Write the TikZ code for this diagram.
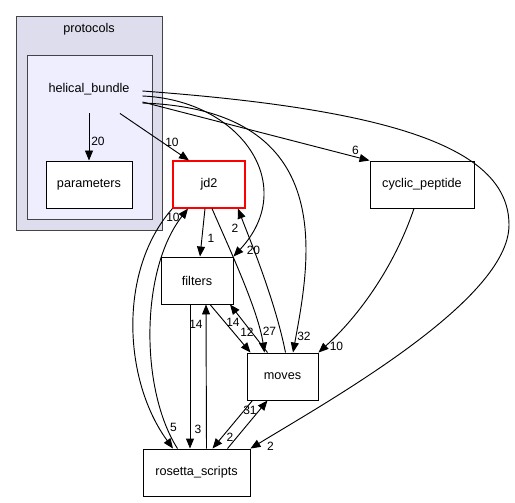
\documentclass[tikz,border=0pt]{standalone}
\usepackage{fontspec}
\setmainfont{Liberation Sans}
\usetikzlibrary{arrows.meta, calc}
\definecolor{clusterouter}{HTML}{DDDDEE}
\definecolor{clusterinner}{HTML}{EEEEFF}
\definecolor{clusterline}{HTML}{444444}

\begin{document}
\begin{tikzpicture}[x=0.75pt, y=-0.75pt, line width=0.7pt,
    >={Triangle[length=7.5pt, width=6pt]},
    every node/.style={font=\fontsize{9.5}{11}\selectfont},
    dirbox/.style={draw, fill=white, minimum height=35.25pt, inner sep=0pt},
    lbl/.style={font=\fontsize{9}{10}\selectfont, inner sep=0pt}]
    \useasboundingbox (0,0) rectangle (515,503);

    % clusters
    \filldraw[fill=clusterouter, draw=clusterline] (16,16) rectangle (162,230);
    \filldraw[fill=clusterinner, draw=clusterline] (27,55) rectangle (152,219);
    \node (protocolslabel) at (89,29) {protocols};

    \node[minimum width=79.5pt, minimum height=36pt] (hb) at (89,89) {helical\_bundle};
    \node[dirbox, minimum width=64.5pt] (parameters) at (89,184.5) {parameters};
    \node[dirbox, draw=red, line width=0.9pt, minimum width=54pt] (jd2) at (209,184.5) {jd2};
    \node[dirbox, minimum width=78pt] (cyclic) at (422,184.5) {cyclic\_peptide};
    \node[dirbox, minimum width=54pt] (filters) at (197,280.5) {filters};
    \node[dirbox, minimum width=53.25pt] (moves) at (282.5,376.5) {moves};
    \node[dirbox, minimum width=80.25pt] (rosetta) at (196.5,472.5) {rosetta\_scripts};
    \coordinate (bend) at (509,225);

    % helical_bundle
    \draw[->] (hb.south) -- (parameters.north) node[lbl, at end, shift={(9,-19)}] {20};
    \draw[->] ($(hb.south)+(31,0)$) -- ($(jd2.north)+(-20,0)$) node[lbl, at end, shift={(-17,-18)}] {10};
    \draw[->] ($(hb.east)+(0,13)$) -- (cyclic.north west) node[lbl, at end, shift={(-14,-10)}] {6};
    \draw[->] ($(hb.east)+(0,7)$) .. controls (240,100) and (300,185) .. (filters.north east)
        node[lbl, at end, shift={(20,-6)}] {20};
    \draw[->] ($(hb.east)+(0,14)$) .. controls (340,110) and (310,260) .. ($(moves.north)+(10.5,0)$)
        node[lbl, at end, shift={(11,-16)}] {32};
    \draw[->] ($(hb.east)+(0,2)$) .. controls (400,110) and (509,150) .. (bend)
        .. controls (509,300) and (330,400) .. (rosetta.north east)
        node[lbl, at end, shift={(20,-2)}] {2};

    % jd2
    \draw[->] ($(jd2.south)+(-4,0)$) -- ($(filters.north)+(3,0)$) node[lbl, at end, shift={(11,-18)}] {1};
    \draw[->] ($(jd2.south)+(3,0)$) .. controls (230,250) and (258,310) .. ($(moves.north)+(-18,0)$)
        node[lbl, at end, shift={(5,-21)}] {27};
    \draw[->] (jd2.south west) .. controls (118,270) and (123,380) .. ($(rosetta.north)+(-23.5,0)$)
        node[lbl, at end, shift={(0.5,-21)}] {5};

    % filters
    \draw[->] ($(filters.south)+(13,0)$) -- ($(moves.north)+(-32,0)$) node[lbl, at end, shift={(-3.5,-20)}] {12};
    \draw[->] ($(filters.south)+(-7,0)$) -- ($(rosetta.north)+(-6.5,0)$) node[lbl, at end, shift={(8,-19)}] {3};

    % moves
    \draw[->] ($(moves.north)+(3,0)$) .. controls (275,300) and (250,240) .. ($(jd2.south)+(29,0)$)
        node[lbl, at end, shift={(-3,20)}] {2};
    \draw[->] ($(moves.north)+(-15,0)$) -- ($(filters.south)+(33,0)$) node[lbl, at end, shift={(3,18)}] {14};
    \draw[->] ($(moves.south)+(-30,0)$) -- ($(rosetta.north)+(16,0)$) node[lbl, at end, shift={(17.5,-11)}] {2};

    % rosetta_scripts
    \draw[->] ($(rosetta.north)+(10,0)$) -- ($(filters.south)+(9,0)$) node[lbl, at end, shift={(-10,20)}] {14};
    \draw[->] ($(rosetta.north)+(-19,0)$) .. controls (140,390) and (140,270) .. ($(jd2.south)+(-21,0)$)
        node[lbl, at end, shift={(-15,9)}] {10};
    \draw[->] ($(rosetta.north)+(31,0)$) -- ($(moves.south)+(-15,0)$) node[lbl, at end, shift={(-17.5,10)}] {31};

    % cyclic_peptide
    \draw[->] ($(cyclic.south)+(-8,0)$) .. controls (395,265) and (360,315) .. (moves.north east)
        node[lbl, at end, shift={(18,-6)}] {10};
\end{tikzpicture}
\end{document}
